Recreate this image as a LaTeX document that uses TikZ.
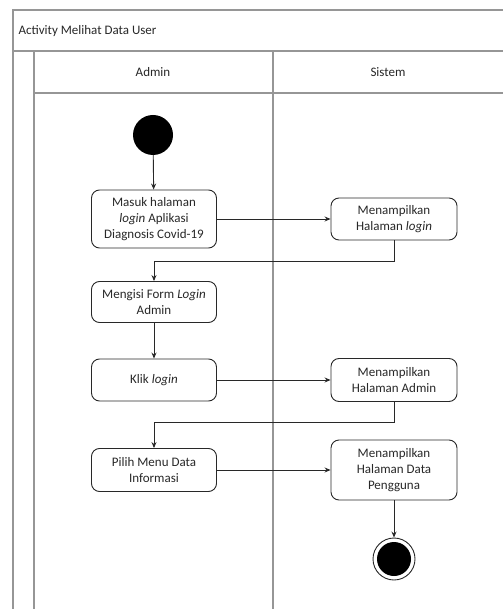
\documentclass[tikz,border=0pt]{standalone}
\usepackage{fontspec}
\setmainfont{Carlito}
\usetikzlibrary{arrows.meta}
\definecolor{lanegray}{RGB}{150,150,150}
\definecolor{ink}{RGB}{40,40,40}
\begin{document}
\begin{tikzpicture}[x=1pt,y=-1pt,
  lane/.style={draw=lanegray,line width=1.3pt},
  action/.style={draw=ink,line width=0.9pt,rounded corners=8pt,fill=white,
    align=center,inner sep=0pt,font=\fontsize{13}{16}\selectfont,text=ink},
  flow/.style={draw=ink,line width=0.9pt,-{Stealth[length=6pt,width=5pt]}},
  lbl/.style={font=\fontsize{13}{16}\selectfont,text=ink}]
\useasboundingbox[fill=white] (0,0) rectangle (503,609);

% swimlane frame
\draw[lane] (13,609) -- (13,10) -- (503,10);
\draw[lane] (13,51) -- (503,51);
\draw[lane] (34,51) -- (34,609);
\draw[lane] (34,93) -- (503,93);
\draw[lane] (273,51) -- (273,609);
\node[lbl,anchor=west] (title) at (15,31) {Activity Melihat Data User};
\node[lbl] (admin) at (153,72) {Admin};
\node[lbl] (sistem) at (388,72) {Sistem};

% start and end states
\node[circle,fill=black,minimum size=40pt,inner sep=0pt] (start) at (153,135) {};
\node[circle,draw=ink,line width=0.9pt,fill=white,minimum size=42pt,inner sep=0pt] (end) at (394,559) {};
\node[circle,fill=black,minimum size=34pt,inner sep=0pt] (endin) at (394,559) {};

% actions
\node[action,minimum width=125pt,minimum height=58pt] (b1) at (154,219)
  {Masuk halaman\\\textit{login} Aplikasi\\Diagnosis Covid-19};
\node[action,minimum width=126pt,minimum height=42pt] (b2) at (394,219)
  {Menampilkan\\Halaman \textit{login}};
\node[action,minimum width=125pt,minimum height=41pt] (b3) at (154,302)
  {Mengisi Form \textit{Login}\\Admin};
\node[action,minimum width=125pt,minimum height=42pt] (b4) at (154,380)
  {Klik \textit{login}};
\node[action,minimum width=126pt,minimum height=43pt] (b5) at (394,380)
  {Menampilkan\\Halaman Admin};
\node[action,minimum width=125pt,minimum height=43pt] (b6) at (154,470)
  {Pilih Menu Data\\Informasi};
\node[action,minimum width=126pt,minimum height=60pt] (b7) at (394,470)
  {Menampilkan\\Halaman Data\\Pengguna};

% transitions
\draw[flow] (start) -- (b1);
\draw[flow] (b1.east) -- (b2.west);
\draw[flow] (b2.south) -- ++(0,21) -| (b3.north);
\draw[flow] (b3) -- (b4);
\draw[flow] (b4.east) -- (b5.west);
\draw[flow] (b5.south) -- ++(0,20.5) -| (b6.north);
\draw[flow] (b6.east) -- (b7.west);
\draw[flow] (b7.south) -- (end.north);
\end{tikzpicture}
\end{document}
